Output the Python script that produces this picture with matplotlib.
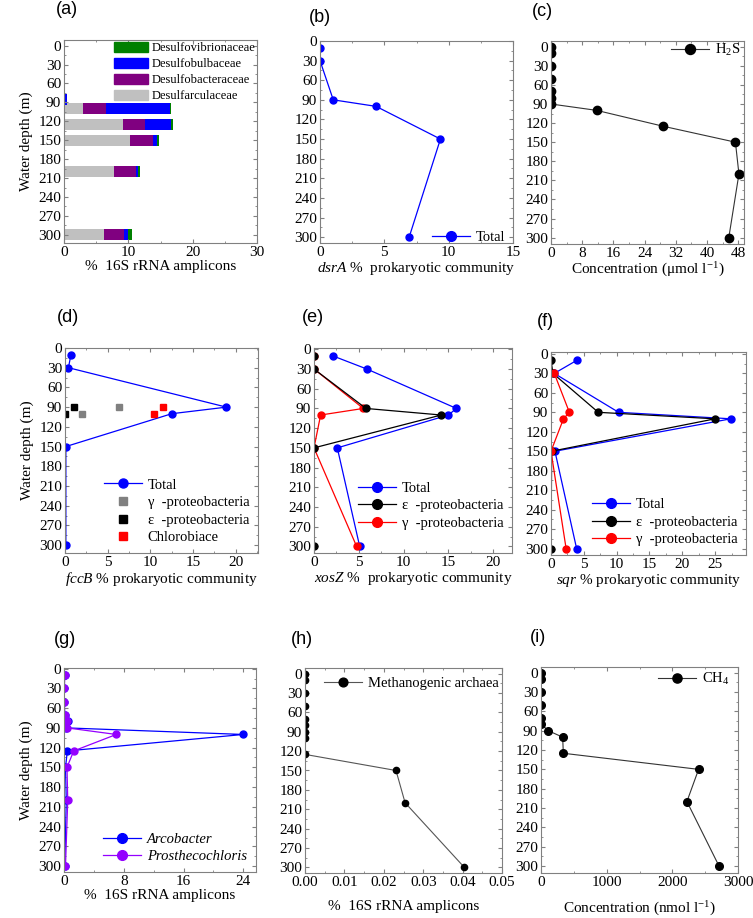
import numpy as np
import matplotlib.pyplot as plt
from matplotlib.patches import Patch
from matplotlib.ticker import MultipleLocator, FormatStrFormatter

plt.rcParams['font.family'] = ['Liberation Serif', 'DejaVu Serif']
plt.rcParams['mathtext.fontset'] = 'custom'
plt.rcParams['mathtext.rm'] = 'Liberation Serif'
plt.rcParams['mathtext.it'] = 'Liberation Serif:italic'
plt.rcParams['font.size'] = 11

# (a) sulfate reducers, stacked % 16S rRNA amplicons
depth_a = [10, 30, 50, 70, 85, 100, 125, 150, 200, 300]
desulfarcul = [0, 0, 0, 0, 0, 3.0, 9.1, 10.3, 7.8, 6.2]
desulfobacter = [0, 0, 0, 0, 0, 3.5, 3.5, 3.5, 3.35, 3.2]
desulfobulb = [0, 0, 0.1, 0, 0.45, 10.0, 4.07, 0.6, 0.41, 0.55]
desulfovibrio = [0.1, 0.1, 0.1, 0.1, 0, 0.1, 0.23, 0.4, 0.24, 0.65]

# (b) dsrA
depth_b = [10, 30, 90, 100, 150, 300]
dsra_total = [0, 0, 1.03, 4.36, 9.36, 6.93]

# (c) H2S
depth_c = [0, 10, 30, 50, 70, 80, 90, 100, 125, 150, 200, 300]
h2s = [0, 0, 0, 0, 0, 0, 0, 11.7, 28.8, 47.3, 48.2, 45.6]

# (d) fccB
depth_d = [10, 30, 90, 100, 150, 300]
fccb_total = [0.7, 0.4, 18.9, 12.5, 0.1, 0.1]
depth_d_groups = [90, 100]
fccb_gamma = [6.3, 2.0]
fccb_eps = [1.1, 0.0]
fccb_chloro = [11.5, 10.4]

# (e) soxZ
depth_e = [10, 30, 90, 100, 150, 300]
xosz_total = [2.1, 5.9, 15.9, 15.0, 2.6, 5.1]
xosz_eps = [0, 0, 5.8, 14.2, 0, 0]
xosz_gamma = [0, 0, 5.5, 0.74, 0, 4.76]

# (f) sqr
depth_f = [10, 30, 90, 100, 150, 300]
sqr_total = [3.9, 0.5, 10.3, 27.4, 0.6, 3.9]
sqr_eps = [0, 0.3, 7.2, 25.0, 0.1, 0]
depth_f_gamma = [30, 90, 100, 150, 300]
sqr_gamma = [0.5, 2.8, 1.9, 0, 2.3]

# (g) Arcobacter / Prosthecochloris
depth_g = [10, 30, 50, 70, 80, 90, 100, 125, 150, 200, 300]
arcobacter = [0.1, 0.0, 0.0, 0.1, 0.5, 0.3, 24.0, 0.45, 0.2, 0.3, 0.1]
prostheco = [0.1, 0.05, 0.05, 0.1, 0.4, 0.4, 7.0, 1.3, 0.4, 0.5, 0.2]

# (h) methanogenic archaea
depth_h = [0, 10, 30, 50, 70, 80, 90, 100, 125, 150, 200, 300]
methanogens = [0, 0, 0, 0, 0, 0, 0, 0, 0, 0.0231, 0.0254, 0.0404]

# (i) CH4
depth_i = [0, 10, 30, 50, 70, 80, 90, 100, 125, 150, 200, 300]
ch4 = [5, 5, 5, 5, 5, 5, 112, 330, 340, 2400, 2222, 2710]

BLUE = '#0000FF'
RED = '#FF0000'
PURPLE = '#9400FF'
GREY_SP = '#808080'

W, H = 753, 918
fig = plt.figure(figsize=(W / 100, H / 100), dpi=100)


def add_ax(l, t, r, b):
    return fig.add_axes([l / W, 1 - b / H, (r - l) / W, (b - t) / H])


def style(ax, xlim, xmaj, xmin, ylim):
    ax.set_xlim(*xlim)
    ax.set_ylim(*ylim)
    ax.yaxis.set_major_locator(MultipleLocator(30))
    ax.yaxis.set_minor_locator(MultipleLocator(15))
    ax.xaxis.set_major_locator(MultipleLocator(xmaj))
    ax.xaxis.set_minor_locator(MultipleLocator(xmin))
    ax.tick_params(which='both', direction='in', top=True, right=True,
                   color=GREY_SP, labelsize=11, pad=2)
    ax.tick_params(which='major', length=3)
    ax.tick_params(which='minor', length=1.5)
    for s in ax.spines.values():
        s.set_color(GREY_SP)
        s.set_linewidth(0.8)


def legend(ax, **kw):
    opts = dict(frameon=False, fontsize=10.5, handlelength=2.6, handletextpad=0.4,
                labelspacing=0.3, borderaxespad=0.2, markerscale=1.4)
    opts.update(kw)
    return ax.legend(**opts)


# ---------- (a)
ax = add_ax(64, 40, 257, 243)
left = np.zeros(len(depth_a))
for vals, col in [(desulfarcul, '#C0C0C0'), (desulfobacter, '#800080'),
                  (desulfobulb, BLUE), (desulfovibrio, '#008000')]:
    ax.barh(depth_a, vals, height=18, left=left, color=col, linewidth=0)
    left = left + np.array(vals)
style(ax, (0, 30), 10, 5, (313, -9))
ax.set_xlabel('%  16S rRNA amplicons', labelpad=1)
ax.set_ylabel('Water depth (m)')
handles = [Patch(color='#008000'), Patch(color=BLUE), Patch(color='#800080'), Patch(color='#C0C0C0')]
labels = ['Desulfovibrionaceae', 'Desulfobulbaceae', 'Desulfobacteraceae', 'Desulfarculaceae']
ax.legend(handles, labels, loc='upper right', frameon=False, fontsize=9,
          handlelength=2.7, handleheight=0.85, handletextpad=0.3,
          labelspacing=0.3, borderaxespad=0.05, borderpad=0.1)

# ---------- (b)
ax = add_ax(320, 41, 513, 243)
ax.plot(dsra_total, depth_b, '-o', color=BLUE, lw=0.9, ms=5, label='Total')
style(ax, (0, 15), 5, 2.5, (309, 0))
ax.set_xlabel(r'$\it{dsrA}$ %  prokaryotic community', labelpad=1)
legend(ax, loc='lower right', bbox_to_anchor=(1.0, -0.04), borderaxespad=0.1)

# ---------- (c)
ax = add_ax(551, 41, 744, 244)
ax.plot(h2s, depth_c, '-o', color='#333333', mfc='black', mec='black', lw=0.8, ms=6,
        label=r'H$_2$S')
style(ax, (0, 49.5), 8, 4, (310, -9))
ax.set_xlabel(r'Concentration (μmol l$^{-1}$)', labelpad=1)
legend(ax, loc='upper right', bbox_to_anchor=(1.01, 1.025), borderaxespad=0.0,
       markerscale=1.2)

# ---------- (d)
ax = add_ax(65, 348, 258, 553)
ax.plot(fccb_total, depth_d, '-o', color=BLUE, lw=0.9, ms=5, label='Total')
ax.plot(fccb_gamma, depth_d_groups, 's', color='#808080', ms=4.5, ls='none',
        label='γ  -proteobacteria')
ax.plot(fccb_eps, depth_d_groups, 's', color='black', ms=4.5, ls='none',
        label='ε  -proteobacteria')
ax.plot(fccb_chloro, depth_d_groups, 's', color=RED, ms=4.5, ls='none',
        label='Chlorobiace')
style(ax, (0, 22.6), 5, 2.5, (312, 0))
ax.set_xlabel(r'$\it{fccB}$ % prokaryotic community', labelpad=1)
ax.set_ylabel('Water depth (m)')
legend(ax, loc='lower right', markerscale=1.3)

# ---------- (e)
ax = add_ax(314, 348, 512, 553)
ax.plot(xosz_total, depth_e, '-o', color=BLUE, lw=0.9, ms=5, label='Total')
ax.plot(xosz_gamma, depth_e, '-o', color=RED, lw=0.9, ms=5, label='γ  -proteobacteria')
ax.plot(xosz_eps, depth_e, '-o', color='black', lw=0.9, ms=5, label='ε  -proteobacteria')
style(ax, (0, 22.1), 5, 2.5, (310, -2))
ax.set_xlabel(r'$\it{xosZ}$ %  prokaryotic community', labelpad=1)
h_, l_ = ax.get_legend_handles_labels()
legend(ax, handles=[h_[0], h_[2], h_[1]], labels=[l_[0], l_[2], l_[1]],
       loc='lower right', bbox_to_anchor=(1.0, 0.07))

# ---------- (f)
ax = add_ax(551, 352, 746, 555)
ax.plot(sqr_total, depth_f, '-o', color=BLUE, lw=0.9, ms=5, label='Total')
ax.plot(sqr_eps, depth_f, '-o', color='black', lw=0.9, ms=5, label='ε  -proteobacteria')
ax.plot(sqr_gamma, depth_f_gamma, '-o', color=RED, lw=0.9, ms=5, label='γ  -proteobacteria')
style(ax, (0, 29.7), 5, 2.5, (310, -3))
ax.set_xlabel(r'$\it{sqr}$ % prokaryotic community', labelpad=1)
legend(ax, loc='lower right')

# ---------- (g)
ax = add_ax(64, 668, 256, 872)
ax.plot(arcobacter, depth_g, '-o', color=BLUE, lw=0.9, ms=5, label='Arcobacter')
ax.plot(prostheco, depth_g, '-o', color=PURPLE, lw=0.9, ms=5, label='Prosthecochloris')
style(ax, (0, 25.7), 8, 4, (309, -1))
ax.set_xlabel('%  16S rRNA amplicons', labelpad=1)
ax.set_ylabel('Water depth (m)')
leg = legend(ax, loc='lower right')
for t in leg.get_texts():
    t.set_fontstyle('italic')

# ---------- (h)
ax = add_ax(305, 668, 502, 873)
ax.plot(methanogens, depth_h, '-o', color='#555555', mfc='black', mec='black',
        lw=0.8, ms=4.5, label='Methanogenic archaea')
style(ax, (0, 0.05), 0.01, 0.005, (309, -9))
ax.xaxis.set_major_formatter(FormatStrFormatter('%.2f'))
ax.set_xlabel('%  16S rRNA amplicons', labelpad=8)
legend(ax, loc='upper left', bbox_to_anchor=(0.052, 1.0))

# ---------- (i)
ax = add_ax(541, 667, 738, 873)
ax.plot(ch4, depth_i, '-o', color='#333333', mfc='black', mec='black',
        lw=0.8, ms=5.5, label=r'CH$_4$')
style(ax, (0, 3000), 1000, 500, (311, -9))
ax.set_xlabel(r'Concentration (nmol l$^{-1}$)', labelpad=8)
legend(ax, loc='upper right', bbox_to_anchor=(1.0, 1.024), markerscale=1.2)

# panel letters
for lab, x, y in [('(a)', 56, 10), ('(b)', 309, 17), ('(c)', 532, 12),
                  ('(d)', 57, 317), ('(e)', 302, 318), ('(f)', 537, 321),
                  ('(g)', 54, 640), ('(h)', 291, 640), ('(i)', 530, 638)]:
    fig.text(x / W, 1 - y / H, lab, ha='left', va='center', fontsize=13,
             family='Liberation Sans')

fig.savefig('out.png', dpi=100)
